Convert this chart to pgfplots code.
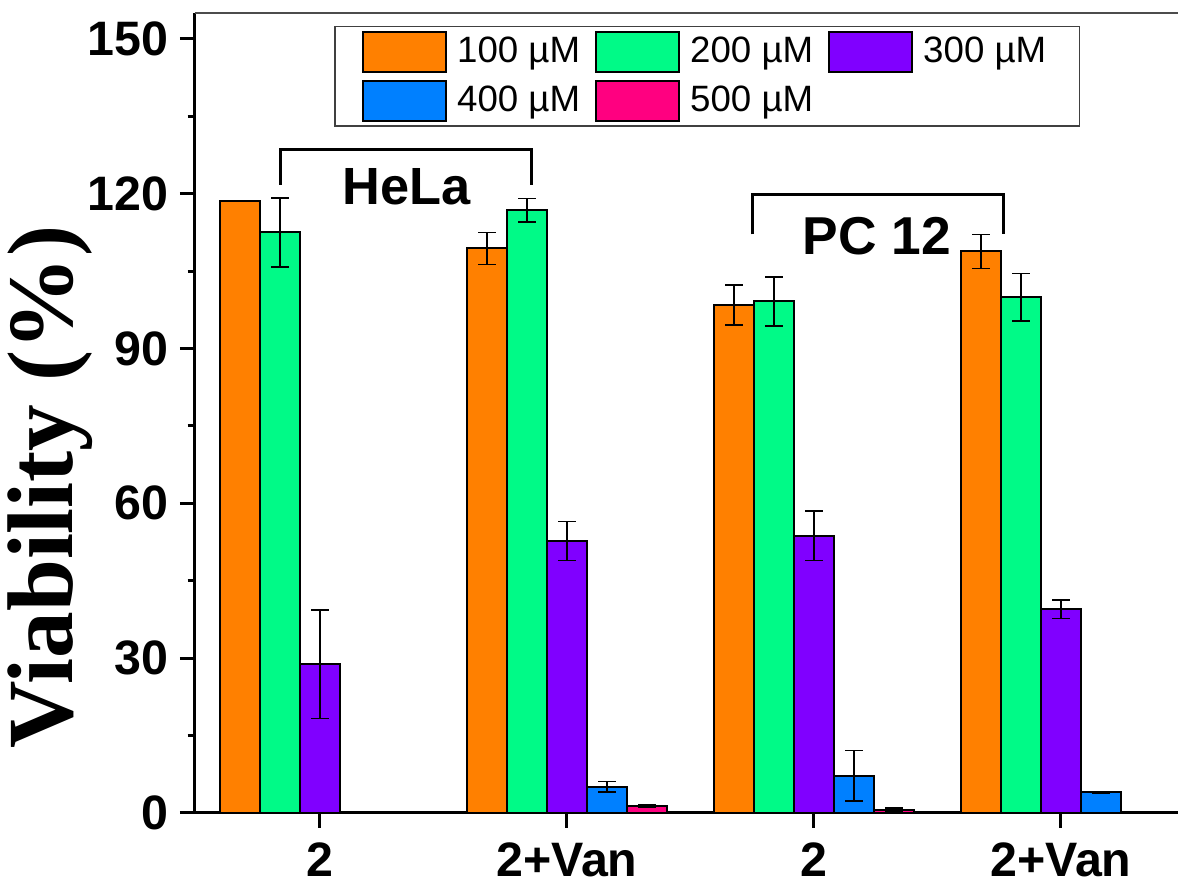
\documentclass[border=0pt]{standalone}
\usepackage{fontspec}
\setmainfont{Liberation Sans}
\newfontfamily\serifb{Liberation Serif}
\usepackage{pgfplots}
\pgfplotsset{compat=1.18}
\definecolor{cOr}{RGB}{255,128,0}
\definecolor{cGr}{RGB}{0,250,135}
\definecolor{cPu}{RGB}{128,0,255}
\definecolor{cBl}{RGB}{0,128,255}
\definecolor{cPk}{RGB}{255,0,128}
\begin{document}
\begin{tikzpicture}
\pgfplotsset{
  mybar/.style={draw=black, line width=0.6pt,
    legend image code/.code={\draw[##1, line width=0.6pt] (0pt,-6.1pt) rectangle (24.9pt,6.1pt);},
    error bars/y dir=both, error bars/y explicit,
    error bars/error bar style={line width=0.45pt, black},
    error bars/error mark options={rotate=90, line width=0.45pt, black, mark size=2.6pt}},
}
\begin{axis}[
  at={(0,0)}, anchor=south west,
  width=294.9pt, height=240pt, scale only axis,
  ybar, bar width=0.162,
  xmin=-0.506, xmax=3.474, ymin=0, ymax=155,
  axis x line*=bottom, axis y line*=left,
  axis line style={line width=0.9pt},
  xtick={0,1,2,3}, xticklabels={2,2+Van,2,2+Van},
  ytick={0,30,60,90,120,150}, minor y tick num=1,
  tick align=outside, major tick length=4.5pt, minor tick length=2.2pt,
  tick style={line width=0.9pt, black},
  /pgf/number format/assume math mode=true,
  ticklabel style={font=\bfseries\fontsize{14.5}{15}\selectfont},
  xticklabel style={yshift=-1pt},
  ylabel={\serifb\bfseries Viability (\%)},
  every axis y label/.style={at={(axis description cs:-0.1475,0.4075)}, rotate=90, anchor=center, font=\fontsize{28}{29}\selectfont},
  legend columns=3,
  legend style={at={(rel axis cs:0.1414,0.984)}, anchor=north west, draw=black!75, line width=0.5pt,
    font=\fontsize{11}{12}\selectfont, inner xsep=8pt, inner ysep=1pt, row sep=1.5pt,
    /tikz/every odd column/.append style={column sep=1.2pt},
    /tikz/every even column/.append style={column sep=2.3pt}},
  clip=false,
]
\addplot[mybar, fill=cOr, bar shift=-0.324] table[x=x, y=y, y error=e] {
x y e
0 118.5 0
1 109.4 3.1
2 98.4 3.9
3 108.8 3.3
};
\addlegendentry{100 µM}
\addplot[mybar, fill=cGr, bar shift=-0.162] table[x=x, y=y, y error=e] {
x y e
0 112.5 6.7
1 116.8 2.3
2 99.1 4.7
3 99.9 4.6
};
\addlegendentry{200 µM}
\addplot[mybar, fill=cPu, bar shift=0] table[x=x, y=y, y error=e] {
x y e
0 28.8 10.5
1 52.7 3.8
2 53.7 4.8
3 39.5 1.8
};
\addlegendentry{300 µM}
\addplot[mybar, fill=cBl, bar shift=0.162] table[x=x, y=y, y error=e] {
x y e
1 5.1 1.0
2 7.2 4.9
3 4.0 0.2
};
\addlegendentry{400 µM}
\addplot[mybar, fill=cPk, bar shift=0.324] table[x=x, y=y, y error=e] {
x y e
1 1.3 0.2
2 0.6 0.4
};
\addlegendentry{500 µM}
\draw[line width=0.5pt, black!70] (rel axis cs:0,1) -- (rel axis cs:1,1);
\draw[line width=0.9pt] (axis cs:-0.158,121.7) -- (axis cs:-0.158,128.5) -- (axis cs:0.858,128.5) -- (axis cs:0.858,121.7);
\node[font=\bfseries\fontsize{15.7}{16}\selectfont] at (axis cs:0.352,121.3) {HeLa};
\draw[line width=0.9pt] (axis cs:1.752,112.1) -- (axis cs:1.752,119.8) -- (axis cs:2.769,119.8) -- (axis cs:2.769,112.1);
\node[font=\bfseries\fontsize{16}{17}\selectfont] at (axis cs:2.254,111.7) {PC 12};
\end{axis}
\pgfresetboundingbox
\path[use as bounding box] (-58.5pt,-22.5pt) rectangle (294.9pt,243.9pt);
\end{tikzpicture}
\end{document}
